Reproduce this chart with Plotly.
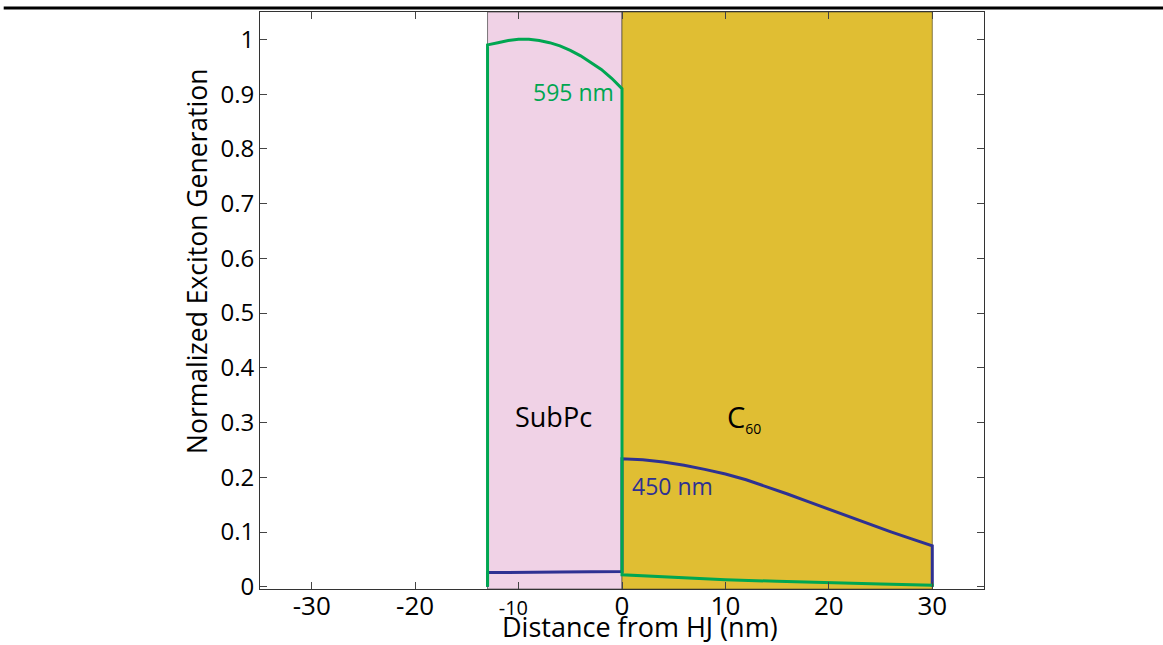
import plotly.graph_objects as go

# Device stack (nm from the heterojunction, HJ at 0)
subpc_start = -13
hj_position = 0
c60_end = 30

# Exciton generation profile at 595 nm
x_595 = [-13, -13, -12, -11, -10, -9, -8, -7, -6, -5, -4, -3, -2, -1, 0,
         0, 5, 10, 15, 20, 25, 30, 30]
y_595 = [0, 0.990, 0.994, 0.998, 1.000, 1.000, 0.998, 0.994, 0.988, 0.980,
         0.970, 0.958, 0.945, 0.929, 0.910,
         0.022, 0.017, 0.013, 0.010, 0.007, 0.005, 0.003, 0]

# Exciton generation profile at 450 nm
x_450 = [-13, -13, -6, 0, 0, 2, 4, 6, 8, 10, 12, 14, 16, 18, 20, 22, 24,
         26, 28, 30, 30]
y_450 = [0, 0.026, 0.027, 0.028, 0.234, 0.232, 0.228, 0.222, 0.2145, 0.206,
         0.1955, 0.183, 0.1695, 0.1555, 0.1415, 0.1275, 0.114, 0.1005, 0.0875,
         0.075, 0]

x_tickvals = [-30, -20, -10, 0, 10, 20, 30]
x_ticktext = ["-30", "-20",
              "<span style='font-size:20px'>-10\u00a0\u00a0</span>",
              "0", "10", "20", "30"]
y_tickvals = [0, 0.1, 0.2, 0.3, 0.4, 0.5, 0.6, 0.7, 0.8, 0.9, 1]
y_ticktext = ["0", "0.1", "0.2", "0.3", "0.4", "0.5", "0.6", "0.7", "0.8",
              "0.9", "1"]

GREEN = "#00a651"
BLUE = "#2e3192"
PINK = "#f0d2e6"
GOLD = "#e0be33"
FONT = "Open Sans"

fig = go.Figure()

fig.add_trace(go.Scatter(x=x_450, y=y_450, mode="lines",
                         line=dict(color=BLUE, width=3), hoverinfo="skip"))
fig.add_trace(go.Scatter(x=x_595, y=y_595, mode="lines",
                         line=dict(color=GREEN, width=3), hoverinfo="skip"))

# Layer shading
fig.add_shape(type="rect", xref="x", yref="paper", x0=subpc_start, x1=hj_position,
              y0=0, y1=1, fillcolor=PINK, layer="below",
              line=dict(color="rgba(70,70,70,0.7)", width=1))
fig.add_shape(type="rect", xref="x", yref="paper", x0=hj_position, x1=c60_end,
              y0=0, y1=1, fillcolor=GOLD, layer="below",
              line=dict(color="rgba(90,80,40,0.7)", width=1))

# Rule across the top of the page
fig.add_shape(type="line", xref="paper", yref="paper", x0=-0.354, x1=1.25,
              y0=1.007, y1=1.007, line=dict(color="black", width=3))

annotations = [
    dict(x=-4.67, y=0.903, text="595 nm", font=dict(color=GREEN, size=23)),
    dict(x=4.93, y=0.185, text="450 nm", font=dict(color=BLUE, size=23)),
    dict(x=-6.67, y=0.312, text="SubPc", font=dict(color="black", size=27)),
    dict(x=11.8, y=0.309,
         text="C<sub><span style='font-size:14px'>60</span></sub>",
         font=dict(color="black", size=29)),
]
for a in annotations:
    fig.add_annotation(xref="x", yref="y", showarrow=False,
                       xanchor="center", yanchor="middle", **a)

# Axis titles
fig.add_annotation(xref="paper", yref="paper", x=(640 - 260) / 724,
                   y=(589 - 627) / 577, text="Distance from HJ (nm)",
                   showarrow=False, xanchor="center", yanchor="middle",
                   font=dict(size=27, color="black"))
fig.add_annotation(xref="paper", yref="paper", x=(197 - 260) / 724,
                   y=(589 - 262) / 577, text="Normalized Exciton Generation",
                   textangle=-90, showarrow=False, xanchor="center",
                   yanchor="middle", font=dict(size=26.5, color="black"))

fig.update_xaxes(range=[-35, 35], tickvals=x_tickvals, ticktext=x_ticktext,
                 ticks="inside", ticklen=7, tickcolor="#444", tickwidth=1,
                 showline=True, linecolor="#333", linewidth=1,
                 mirror="allticks", showgrid=False, zeroline=False,
                 ticklabelstandoff=-6,
                 tickfont=dict(size=26, color="black"))
fig.update_yaxes(range=[-0.004, 1.05], tickvals=y_tickvals, ticktext=y_ticktext,
                 ticks="inside", ticklen=7, tickcolor="#444", tickwidth=1,
                 showline=True, linecolor="#333", linewidth=1,
                 mirror="allticks", showgrid=False, zeroline=False,
                 tickfont=dict(size=24, color="black"))

fig.update_layout(width=1163, height=645,
                  margin=dict(l=260, r=179, t=12, b=56),
                  paper_bgcolor="white", plot_bgcolor="white",
                  showlegend=False, font=dict(family=FONT, color="black"))

fig.write_html("out.html")
